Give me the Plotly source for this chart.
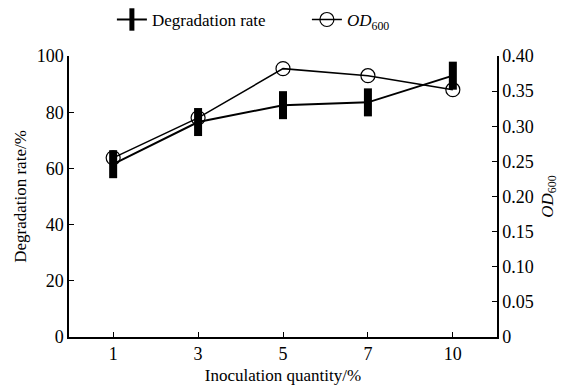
import plotly.graph_objects as go

categories = ["1", "3", "5", "7", "10"]
degradation = [61.5, 76.5, 82.5, 83.5, 93.0]
od600 = [0.255, 0.312, 0.382, 0.372, 0.352]
left_ticks = [0, 20, 40, 60, 80, 100]
right_ticks = [0, 0.05, 0.10, 0.15, 0.20, 0.25, 0.30, 0.35, 0.40]
right_labels = ["0", "0.05", "0.10", "0.15", "0.20", "0.25", "0.30", "0.35", "0.40"]

FONT = "Liberation Serif, Times New Roman, serif"

fig = go.Figure()
fig.add_trace(go.Scatter(
    x=categories, y=degradation, name="Degradation rate",
    mode="lines+markers",
    line=dict(color="black", width=2),
    marker=dict(symbol="line-ns", size=20, color="black", line=dict(width=8, color="black")),
    yaxis="y"))
fig.add_trace(go.Scatter(
    x=categories, y=od600, name="<i>OD</i><sub>600</sub>",
    mode="lines+markers",
    line=dict(color="black", width=1.5),
    marker=dict(symbol="circle-open", size=14, color="black", line=dict(width=1.2)),
    yaxis="y2"))

fig.update_layout(
    width=568, height=388,
    margin=dict(l=69, r=71, t=56, b=51, autoexpand=False),
    paper_bgcolor="white", plot_bgcolor="white",
    font=dict(family=FONT, size=18, color="black"),
    showlegend=True,
    legend=dict(orientation="h", x=0.197, xref="container", xanchor="left",
                y=0.995, yanchor="top", yref="container",
                font=dict(family=FONT, size=17),
                itemwidth=30, entrywidth=150, entrywidthmode="pixels",
                bgcolor="rgba(0,0,0,0)"),
    xaxis=dict(type="category", range=[-0.52, 4.52], showline=True, linecolor="black",
               linewidth=1.5, ticks="inside", ticklen=5, tickcolor="black",
               showgrid=False, zeroline=False, tickfont=dict(size=18), automargin=False,
               title=dict(text="Inoculation quantity/%", standoff=6,
                          font=dict(family=FONT, size=17))),
    yaxis=dict(range=[0, 100], tickvals=left_ticks, showline=True, linecolor="black",
               linewidth=1.5, ticks="inside", ticklen=5, tickcolor="black",
               showgrid=False, zeroline=False, tickfont=dict(size=18), automargin=False,
               title=dict(text="Degradation rate/%", standoff=6,
                          font=dict(family=FONT, size=17))),
    yaxis2=dict(range=[0, 0.4], tickvals=right_ticks, ticktext=right_labels,
                overlaying="y", side="right", showline=True, linecolor="black",
                linewidth=1.5, ticks="inside", ticklen=5, tickcolor="black",
                showgrid=False, zeroline=False, tickfont=dict(size=18), automargin=False,
                title=dict(text="<i>OD</i><sub>600</sub>", standoff=8,
                           font=dict(family=FONT, size=17))),
)

fig.write_html("out.html")
